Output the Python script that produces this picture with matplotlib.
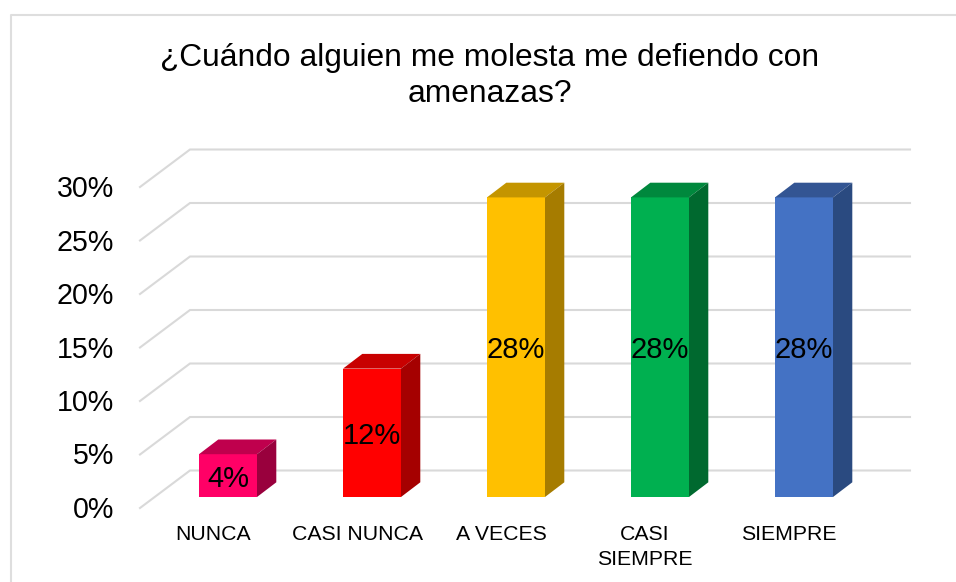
import matplotlib
matplotlib.use('Agg')
import matplotlib.pyplot as plt
from matplotlib.patches import Polygon
from matplotlib.lines import Line2D

plt.rcParams['font.family'] = ['Liberation Sans', 'DejaVu Sans']

# Chart data
categories = ["NUNCA", "CASI NUNCA", "A VECES", "CASI\nSIEMPRE", "SIEMPRE"]
values = [4, 12, 28, 28, 28]
y_ticks = [0, 5, 10, 15, 20, 25, 30]
title = "¿Cuándo alguien me molesta me defiendo con\namenazas?"

# Front, top and side colours of each bar
front_colors = ["#FF0066", "#FF0000", "#FFC000", "#00B050", "#4472C4"]
top_colors = ["#BF004D", "#C80000", "#C49500", "#00883D", "#335593"]
side_colors = ["#99003D", "#A50000", "#A67C00", "#00692F", "#2A4A80"]
grid_color = "#D9D9D9"
frame_color = "#DEDEDE"

W, H = 956, 582
PX_X = 144.0   # pixels per category
PX_Y = 10.7    # pixels per percent
X0 = 228.0     # pixel of the first bar centre
Y0 = 497.0     # pixel of the bars' base


def dx(px):
    return px / PX_X


def dy(px):
    return px / PX_Y


fig = plt.figure(figsize=(W / 100, H / 100), dpi=100)
ax = fig.add_axes([0, 0, 1, 1])
ax.set_xlim(-X0 / PX_X, (W - X0) / PX_X)
ax.set_ylim(-(H - Y0) / PX_Y, Y0 / PX_Y)
ax.axis('off')

# Outer frame (left and top only, the rest is cropped)
ax.add_line(Line2D([11 / W, 11 / W, 1], [0, 1 - 15 / H, 1 - 15 / H],
                   transform=ax.transAxes, color=frame_color, lw=1.5, zorder=1))

# Walls: floor/back offsets measured from the plane of the bars
wall_left = dx(190 - X0)
wall_right = dx(910 - X0)
front_left = dx(140 - X0)
back_off = dy(Y0 - 470.5)
front_off = -dy(508 - Y0)
for tick in y_ticks:
    ax.plot([front_left, wall_left, wall_right],
            [tick + front_off, tick + back_off, tick + back_off],
            color=grid_color, lw=1.5, solid_joinstyle='miter', zorder=2)
    ax.text(dx(114 - X0), tick + front_off + dy(1), str(tick) + "%", ha='right',
            va='center_baseline', fontsize=20.6, color='black', zorder=6)

# Bars
half = dx(29)
depth_x = dx(19.3)
depth_y = dy(14.7)
for i, value in enumerate(values):
    left = i - half
    right = i + half
    ax.add_patch(Polygon([(left, 0), (right, 0), (right, value), (left, value)],
                         facecolor=front_colors[i], edgecolor='none', zorder=4))
    ax.add_patch(Polygon([(left, value), (right, value),
                          (right + depth_x, value + depth_y),
                          (left + depth_x, value + depth_y)],
                         facecolor=top_colors[i], edgecolor='none', zorder=4))
    ax.add_patch(Polygon([(right, 0), (right + depth_x, depth_y),
                          (right + depth_x, value + depth_y), (right, value)],
                         facecolor=side_colors[i], edgecolor='none', zorder=4))
    ax.text(i, value / 2, str(value) + "%", ha='center', va='center_baseline',
            fontsize=21, color='black', zorder=5)
    ax.text(i + dx(-15), -dy(28), categories[i], ha='center', va='top',
            fontsize=15.3, color='black', linespacing=1.42, zorder=5)

# Title
ax.text(dx(490 - X0), dy(Y0 - 43), title, ha='center', va='top',
        fontsize=22.9, color='black', linespacing=1.26, zorder=5)

fig.savefig("out.png", dpi=100)
